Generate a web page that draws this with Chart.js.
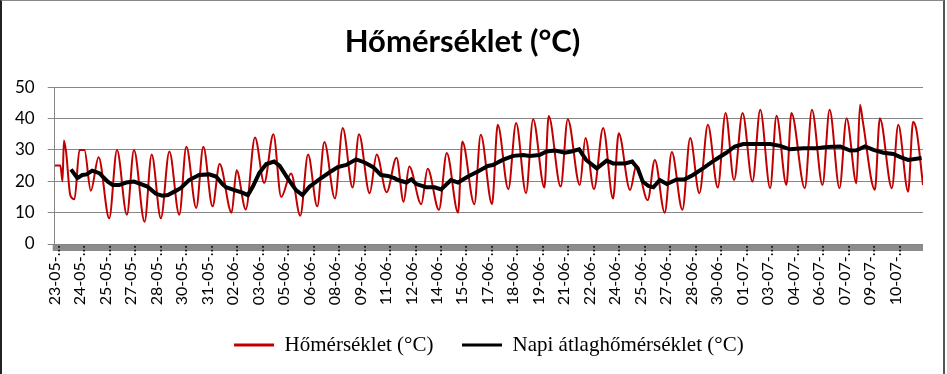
<!DOCTYPE html>
<html>
<head>
<meta charset="utf-8">
<script src="https://cdn.jsdelivr.net/npm/chart.js@4/dist/chart.umd.min.js"></script>
<style>
  body { margin: 0; background: #fff; }
  #wrap { position: relative; width: 947px; height: 374px; }
  #frame { position: absolute; left: 0; top: 0; width: 941px; height: 380px;
           border-left: 2px solid #222; border-top: 1px solid #888; border-right: 2px solid #555;
           pointer-events: none; }
</style>
</head>
<body>
<div id="wrap">
  <canvas id="chart" width="947" height="374"></canvas>
  <div id="frame"></div>
</div>
<script>
// axis labels, one every 36 readings
const tickDates = ['23-05','24-05','25-05','27-05','28-05','30-05','31-05','02-06','03-06','05-06',
  '06-06','08-06','09-06','11-06','12-06','14-06','15-06','17-06','18-06','19-06','21-06','22-06',
  '24-06','25-06','27-06','28-06','30-06','01-07','03-07','04-07','06-07','07-07','09-07','10-07'];
const tickEvery = 36;

// hourly temperature (reading index, value)
const hourlyIdx = [0,8,11,13,16,22,28,35,42,51,62,77,88,102,112,127,137,150,162,176,186,200,210,223,
  233,250,257,270,283,296,309,320,334,347,358,371,381,396,407,421,430,445,455,469,483,493,501,518,
  527,543,554,570,576,593,602,618,626,641,652,666,676,692,698,715,725,742,750,762,775,789,797,813,
  822,838,848,862,872,887,898,911,923,937,948,960,972,986,997,1011,1020,1034,1041,1060,1070,1085,
  1095,1109,1119,1133,1138,1142,1159,1166,1183,1192,1206,1213,1218,1227];
const hourlyTemp = [25,25,20,33,29.5,15.6,14.3,30,30,17,27.7,8.2,30,9.3,30,7.1,28.5,8.2,29.5,9.3,31,
  11.5,31,12,25.5,10,23.5,11,34,19.5,35,15,22.5,9,28.5,12,32.5,14.5,37,18,35,16.2,28.5,16.5,27.5,13.5,
  24.7,12.7,24,10.9,29,10,32.7,12.7,34.8,12.7,38,17.5,38.6,16.2,39.8,18,40.8,18.3,39.8,18.8,33.8,17.5,
  37,14.5,35.3,17.2,25,14,26.8,10,29.3,10.9,33.8,16.2,38,18,41.8,20.4,41.8,19.9,42.8,17.8,40.9,18.8,
  41.8,17.8,42.8,18.8,42.8,17.8,40.1,19.4,44.4,39,17.3,40.1,17.8,38,16.7,39,36,18.8];

// daily average temperature (reading index, value)
const dailyIdx = [23,32,39,45,53,63,75,82,91,101,112,122,131,143,152,160,169,178,190,204,218,228,237,
  242,254,265,273,280,289,299,310,318,329,341,350,360,374,388,400,412,426,438,450,461,471,480,485,
  497,504,511,525,537,546,560,570,584,598,612,619,633,648,662,671,685,695,707,721,730,741,751,766,
  780,789,806,816,824,831,839,846,855,865,879,890,902,916,933,949,961,973,992,1011,1025,1039,1058,
  1077,1091,1110,1124,1133,1145,1157,1171,1185,1195,1206,1225];
const dailyTemp = [23.8,21,22,22.2,23.4,22.6,19.9,18.8,18.8,19.6,19.9,19.1,18.3,16,15.4,15.6,16.7,17.8,
  20.4,22,22.2,21.5,19.1,18.1,17.2,16.4,15.6,18.3,22.6,25.5,26.3,24.9,21,17.2,15.6,18.3,20.6,22.8,24.5,
  25.2,27,26,24.5,22,21.7,21,20.4,19.6,20.6,19.1,18.1,18.1,17.4,20.4,19.6,21.5,23.1,24.9,25.2,26.8,28.1,
  28.4,28.1,28.4,29.5,29.8,29.1,29.5,30.2,26.8,24.1,26.6,25.7,25.7,26.3,24.1,19.9,18.5,18.1,20.4,19.1,
  20.6,20.6,22,24.1,26.8,29.1,31.1,31.9,31.9,31.9,31.3,30.2,30.5,30.5,30.9,31.1,29.8,29.9,31.1,30,29.1,
  28.7,27.7,26.8,27.4];

const lastIdx = 1227;

function toPoints(xs, ys)
{
    return xs.map((x, i) => ({x: x, y: ys[i]}));
}

// thick grey category axis line under the plot
const axisBand = {
    id: 'axisBand',
    beforeDraw(chart) {
        const a = chart.chartArea;
        const ctx = chart.ctx;
        ctx.save();
        ctx.fillStyle = '#8c8c8c';
        ctx.fillRect(a.left - 2, a.bottom, a.right - a.left + 2, 7);
        ctx.restore();
    }
};

new Chart(document.getElementById('chart'), {
    type: 'line',
    data: {
        datasets: [{
            label: 'Hőmérséklet (°C)',
            data: toPoints(hourlyIdx, hourlyTemp),
            borderColor: '#c00000',
            backgroundColor: '#c00000',
            borderWidth: 2,
            pointRadius: 0,
            cubicInterpolationMode: 'monotone',
            order: 1
        }, {
            label: 'Napi átlaghőmérséklet (°C)',
            data: toPoints(dailyIdx, dailyTemp),
            borderColor: '#000000',
            backgroundColor: '#000000',
            borderWidth: 4,
            pointRadius: 0,
            order: 0
        }]
    },
    options: {
        responsive: false,
        animation: false,
        devicePixelRatio: 1,
        layout: { padding: { left: 2, right: 24, top: 0, bottom: 8.5 } },
        plugins: {
            title: {
                display: true,
                text: 'Hőmérséklet (°C)',
                color: '#000',
                font: { family: 'Lato', size: 31, weight: 'bold' },
                padding: { top: 23.5, bottom: 26.5 }
            },
            legend: {
                position: 'bottom',
                fullSize: false,
                labels: {
                    color: '#000',
                    font: { family: 'Liberation Serif', size: 21 },
                    boxWidth: 40,
                    boxHeight: 3,
                    padding: 28.5,
                    sort: (a, b) => a.datasetIndex - b.datasetIndex,
                    generateLabels(chart) {
                        const items = Chart.defaults.plugins.legend.labels.generateLabels(chart);
                        items.forEach(it => { it.lineWidth = 0; });
                        return items;
                    }
                }
            },
            tooltip: { enabled: false }
        },
        scales: {
            x: {
                type: 'linear',
                min: 0,
                max: lastIdx,
                grid: { display: false, drawTicks: false },
                border: { display: false },
                afterBuildTicks(scale) {
                    scale.ticks = tickDates.map((d, i) => ({ value: i * tickEvery }));
                },
                afterFit(scale) {
                    scale.height = 62;
                },
                ticks: {
                    autoSkip: false,
                    maxRotation: 90,
                    minRotation: 90,
                    padding: 1,
                    color: '#000',
                    font: { family: 'Lato', size: 16 },
                    callback: (v, i) => tickDates[i] + '-...'
                }
            },
            y: {
                min: 0,
                max: 50,
                grid: { color: '#868686', tickLength: 7 },
                border: { color: '#868686' },
                ticks: {
                    stepSize: 10,
                    padding: 13,
                    color: '#000',
                    font: { family: 'Lato', size: 17 }
                }
            }
        }
    },
    plugins: [axisBand]
});
</script>
</body>
</html>
